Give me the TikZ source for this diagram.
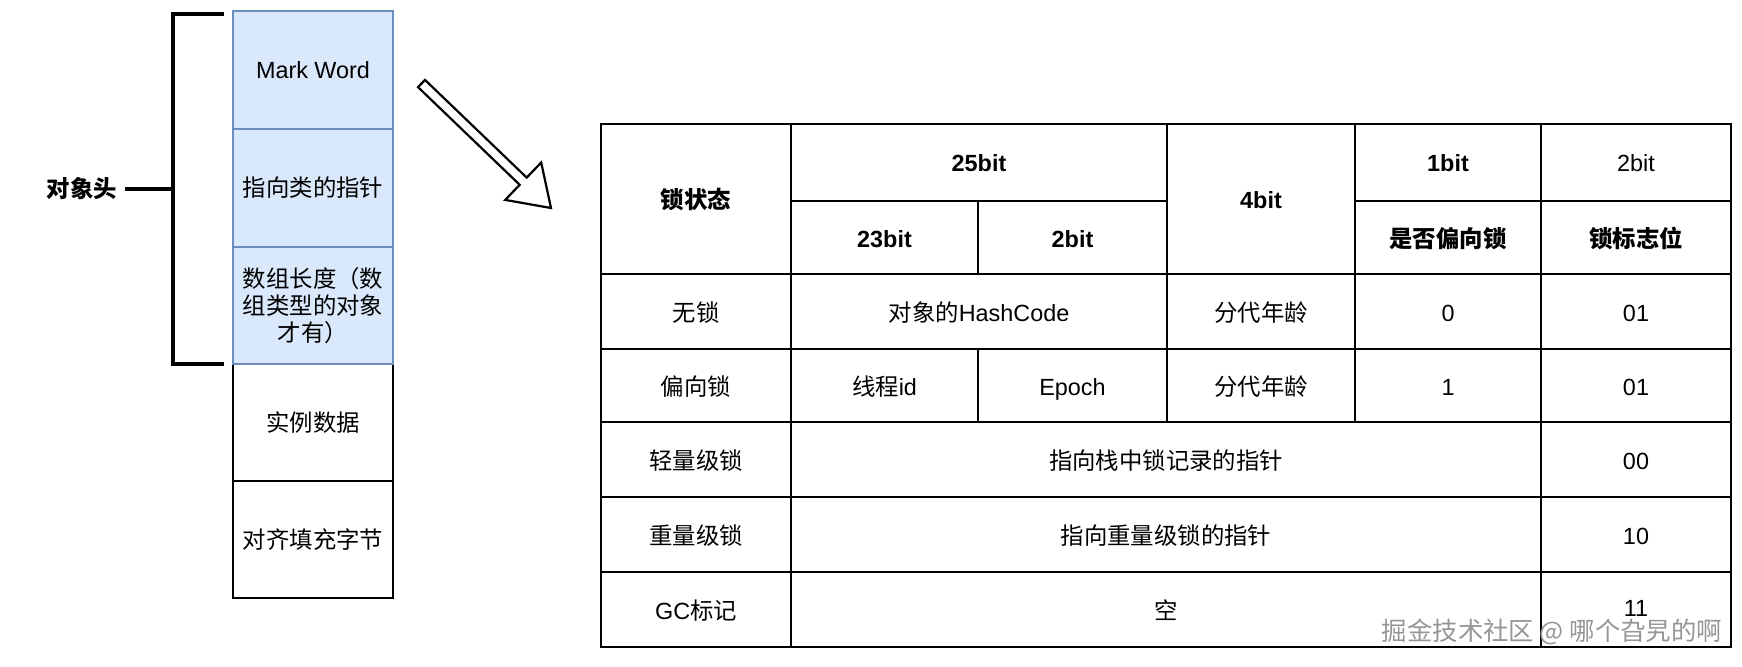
\documentclass[tikz,border=0pt]{standalone}
\usepackage{fontspec}
\setmainfont{Liberation Sans}
\newfontfamily\zh{Noto Sans CJK SC}
\usepackage{tikz}
\usetikzlibrary{positioning}
\definecolor{hdrfill}{RGB}{218,232,252}
\definecolor{hdrblue}{RGB}{108,142,191}
\definecolor{markgray}{RGB}{150,150,150}

\begin{document}
\begin{tikzpicture}[x=0.5pt,y=-0.5pt,
  every node/.style={font=\fontsize{11.7}{13.5}\selectfont,inner sep=0pt},
  zhtext/.style={font=\zh\fontsize{11.7}{13.5}\selectfont},
  zhbold/.style={font=\zh\fontsize{11.7}{13.5}\selectfont\bfseries},
  bold/.style={font=\fontsize{11.7}{13.5}\selectfont\bfseries},
  hdrcell/.style={draw=hdrblue,fill=hdrfill,line width=0.8pt,minimum width=80pt,minimum height=58.75pt,align=center},
  datacell/.style={draw=black,fill=white,line width=1pt,minimum width=80pt,minimum height=58.5pt,align=center},
  grid/.style={line width=1pt},
  wmark/.style={font=\zh\fontsize{12.7}{16}\selectfont,text=markgray}]
\useasboundingbox (0,0) rectangle (1742,666);
\node[datacell,zhtext] (inst) at (313,422.5) {实例数据};
\node[datacell,zhtext] (pad) at (313,539.5) {对齐填充字节};
\node[hdrcell] (mark) at (313,70) {Mark Word};
\node[hdrcell,zhtext] (klass) at (313,188) {指向类的指针};
\node[hdrcell,zhtext] (arrlen) at (313,305.5) {数组长度（数\\组类型的对象\\才有）};
\coordinate (brk) at (173,189);
\draw[line width=1.6pt] (224,14) -- (173,14) -- (173,364) -- (224,364);
\node[zhbold,inner sep=3.5pt] (objhead) at (82,189) {对象头};
\draw[line width=1.6pt] (objhead.east) -- (brk);
\draw[line width=1.1pt,fill=white] (425.0,79.9) -- (526.7,177.6) -- (541.2,162.5) -- (551,208)
  -- (505.2,199.9) -- (519.7,184.8) -- (418.0,87.1) -- cycle;
\draw[grid] (601,124) rectangle (1731,647);
\foreach \y in {274,349,422,497,572} \draw[grid] (601,\y) -- (1731,\y);
\draw[grid] (791,201) -- (1167,201) (1355,201) -- (1731,201);
\draw[grid] (791,124) -- (791,647) (1541,124) -- (1541,647);
\draw[grid] (978,201) -- (978,274) (978,349) -- (978,422);
\draw[grid] (1167,124) -- (1167,422) (1355,124) -- (1355,422);
\begin{scope}[every node/.append style={text height=10.5pt,text depth=1pt}]
\node[zhbold] (lockstate) at (696,199) {锁状态};
\node[bold] (bits25) at (979,162) {25bit};
\node[bold] (bits23) at (884.5,238) {23bit};
\node[bold] (bits2a) at (1072.5,238) {2bit};
\node[bold] (bits4) at (1261,199) {4bit};
\node[bold] (bits1) at (1448,162) {1bit};
\node (bits2b) at (1636,162) {2bit};
\node[zhbold] (biasflag) at (1448,238) {是否偏向锁};
\node[zhbold] (lockflag) at (1636,238) {锁标志位};
\node[zhtext] (nolock) at (696,311.5) {无锁};
\node (hashcode) at (979,311.5) {{\zh 对象的}HashCode};
\node[zhtext] (agea) at (1261,311.5) {分代年龄};
\node (biasa) at (1448,311.5) {0};
\node (flaga) at (1636,311.5) {01};
\node[zhtext] (biased) at (696,385.5) {偏向锁};
\node (thread) at (884.5,385.5) {{\zh 线程}id};
\node (epoch) at (1072.5,385.5) {Epoch};
\node[zhtext] (ageb) at (1261,385.5) {分代年龄};
\node (biasb) at (1448,385.5) {1};
\node (flagb) at (1636,385.5) {01};
\node[zhtext] (light) at (696,459.5) {轻量级锁};
\node[zhtext] (lightptr) at (1166,459.5) {指向栈中锁记录的指针};
\node (flagc) at (1636,459.5) {00};
\node[zhtext] (heavy) at (696,534.5) {重量级锁};
\node[zhtext] (heavyptr) at (1166,534.5) {指向重量级锁的指针};
\node (flagd) at (1636,534.5) {10};
\node (gcmark) at (696,609.5) {GC{\zh 标记}};
\node[zhtext] (empty) at (1166,609.5) {空};
\node (flage) at (1636,607) {11};
\end{scope}
\node[wmark] (wmarktext) at (1552,632) {掘金技术社区 @ 哪个旮旯的啊};
\end{tikzpicture}
\end{document}
